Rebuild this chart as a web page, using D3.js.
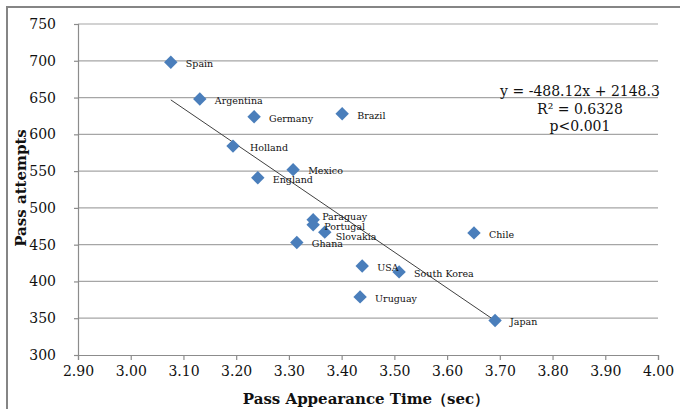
<!DOCTYPE html>
<html>
<head>
<meta charset="utf-8">
<script src="https://cdn.jsdelivr.net/npm/d3@7"></script>
<style>
  body { margin: 0; background: #fff; }
  svg text { font-family: "DejaVu Serif", "Liberation Serif", serif; fill: #111; }
</style>
</head>
<body>
<div id="chart"></div>
<script>
// data
var countries = ["Spain", "Argentina", "Germany", "Brazil", "Holland", "Mexico", "England",
  "Paraguay", "Portugal", "Slovakia", "Ghana", "USA", "South Korea", "Uruguay", "Chile", "Japan"];
var passTime = [3.076, 3.131, 3.234, 3.401, 3.194, 3.308, 3.241,
  3.346, 3.346, 3.368, 3.315, 3.439, 3.509, 3.435, 3.651, 3.691];
var passAttempts = [698, 648, 624, 628, 584, 552, 541,
  484, 477, 467, 453, 421, 413, 379, 466, 347];
var xTicks = [2.9, 3.0, 3.1, 3.2, 3.3, 3.4, 3.5, 3.6, 3.7, 3.8, 3.9, 4.0];
var yTicks = [300, 350, 400, 450, 500, 550, 600, 650, 700, 750];
var slope = -488.12, intercept = 2148.3;
var statLines = ["y = -488.12x + 2148.3", "R\u00b2 = 0.6328", "p<0.001"];

var svgWidth = 680, svgHeight = 409;
var svg = d3.select("#chart").append("svg")
  .attr("width", svgWidth)
  .attr("height", svgHeight);

// outer frame (cut off at right and bottom in the original)
svg.append("rect")
  .attr("x", 7).attr("y", 7)
  .attr("width", 720).attr("height", 440)
  .attr("fill", "none")
  .attr("stroke", "#858585")
  .attr("stroke-width", 2);

var xScale = d3.scaleLinear().domain([2.9, 4.0]).range([78, 658]);
var yScale = d3.scaleLinear().domain([300, 750]).range([355, 24]);

// horizontal gridlines
svg.append("g").selectAll("line")
  .data(yTicks.slice(1))
  .enter().append("line")
  .attr("x1", xScale(2.9)).attr("x2", xScale(4.0))
  .attr("y1", d => yScale(d)).attr("y2", d => yScale(d))
  .attr("stroke", "#a6a6a6")
  .attr("stroke-width", 1.2);

var bottomAxis = d3.axisBottom(xScale).tickValues(xTicks)
  .tickFormat(d3.format(".2f")).tickSizeOuter(0).tickSize(5).tickPadding(6);
var leftAxis = d3.axisLeft(yScale).tickValues(yTicks)
  .tickSizeOuter(0).tickSize(4).tickPadding(18);

var gx = svg.append("g")
  .attr("transform", `translate(0, ${yScale(300)})`)
  .call(bottomAxis);
var gy = svg.append("g")
  .attr("transform", `translate(${xScale(2.9)}, 0)`)
  .call(leftAxis);

[gx, gy].forEach(function(g) {
  g.selectAll("path, line").attr("stroke", "#8c8c8c").attr("stroke-width", 1.2);
  g.selectAll("text")
    .style("font-family", '"DejaVu Serif", serif')
    .style("font-size", "14px")
    .attr("fill", "#111");
});

// trend line over the range of the data
var xExt = d3.extent(passTime);
svg.append("line")
  .attr("x1", xScale(xExt[0])).attr("y1", yScale(slope * xExt[0] + intercept))
  .attr("x2", xScale(xExt[1])).attr("y2", yScale(slope * xExt[1] + intercept))
  .attr("stroke", "#404040")
  .attr("stroke-width", 1);

var points = countries.map((c, i) => ({name: c, x: passTime[i], y: passAttempts[i]}));

svg.append("g").selectAll("path")
  .data(points)
  .enter().append("path")
  .attr("d", d3.symbol().type(d3.symbolSquare).size(90))
  .attr("transform", d => `translate(${xScale(d.x)}, ${yScale(d.y)}) rotate(45)`)
  .attr("fill", "#4a7ebb");

// label nudges where names crowd together
var nudge = {"Paraguay": [9, -3], "Portugal": [11, 1.5], "Slovakia": [11, 5], "Holland": [17, 2]};

svg.append("g").selectAll("text")
  .data(points)
  .enter().append("text")
  .attr("x", d => xScale(d.x) + (nudge[d.name] ? nudge[d.name][0] : 15))
  .attr("y", d => yScale(d.y) + (nudge[d.name] ? nudge[d.name][1] : 1.5))
  .attr("dy", "0.35em")
  .style("font-size", "9.5px")
  .text(d => d.name);

// regression stats
svg.append("g").selectAll("text")
  .data(statLines)
  .enter().append("text")
  .attr("x", 580)
  .attr("y", (d, i) => 96 + i * 17.5)
  .style("text-anchor", "middle")
  .style("font-size", "14px")
  .text(d => d);

// axis titles
svg.append("text")
  .attr("x", 366).attr("y", 404)
  .style("text-anchor", "middle")
  .style("font-size", "15px")
  .style("font-weight", "bold")
  .text("Pass Appearance Time\uff08sec\uff09");

svg.append("text")
  .attr("transform", "rotate(-90)")
  .attr("x", -188).attr("y", 26)
  .style("text-anchor", "middle")
  .style("font-size", "15px")
  .style("font-weight", "bold")
  .text("Pass attempts");
</script>
</body>
</html>
